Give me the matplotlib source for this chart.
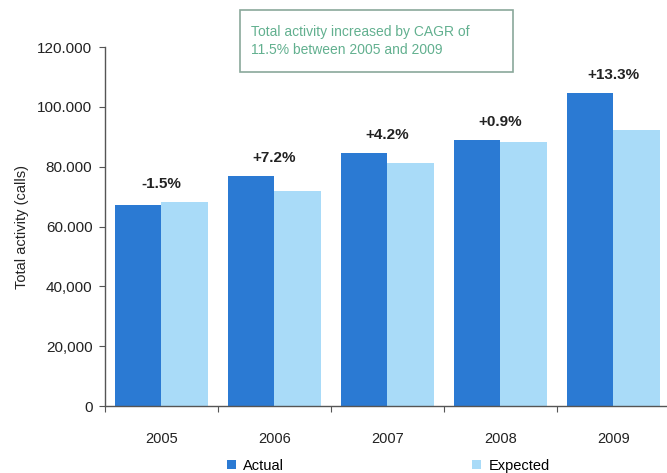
import numpy as np
import matplotlib.pyplot as plt
from matplotlib.patches import Rectangle

plt.rcParams['font.family'] = ['Liberation Sans', 'DejaVu Sans']

# activity per year
years = ['2005', '2006', '2007', '2008', '2009']
actual = [67100, 77000, 84700, 89000, 104700]
expected = [68100, 71800, 81300, 88200, 92400]
diff_labels = ['-1.5%', '+7.2%', '+4.2%', '+0.9%', '+13.3%']
ytick_vals = [0, 20000, 40000, 60000, 80000, 100000, 120000]
ytick_labels = ['0', '20,000', '40,000', '60.000', '80.000', '100.000', '120.000']
note = 'Total activity increased by CAGR of\n11.5% between 2005 and 2009'

c_actual = '#2b7ad3'
c_expected = '#a9dbf8'

fig = plt.figure(figsize=(6.67, 4.73), dpi=100)
ax = fig.add_axes([0.1574, 0.1416, 0.8465, 0.759])

x = np.arange(len(years))
w = 0.412
b1 = ax.bar(x - w / 2, actual, w, color=c_actual, label='Actual')
b2 = ax.bar(x + w / 2, expected, w, color=c_expected, label='Expected')

for i in range(len(years)):
    ax.annotate(diff_labels[i], (x[i], max(actual[i], expected[i])),
                xytext=(0, 8), textcoords='offset points',
                ha='center', va='bottom', fontsize=11, fontweight='bold',
                color='#222222')

ax.set_xlim(-0.5, 4.5)
ax.set_ylim(0, 120000)
ax.set_yticks(ytick_vals)
ax.set_yticklabels(ytick_labels, fontsize=11, color='#222222')
# ticks sit between the groups, year names centred under them
ax.set_xticks(x - 0.5, minor=False)
ax.set_xticklabels([])
ax.set_xticks(x, minor=True)
ax.set_xticklabels(years, minor=True, fontsize=10.5, color='#222222')
ax.tick_params(axis='x', which='minor', length=0, pad=19)
ax.tick_params(axis='x', which='major', length=4, color='#555555')
ax.tick_params(axis='y', length=4, color='#555555', pad=5)
ax.set_ylabel('Total activity (calls)', fontsize=10.5, color='#222222', labelpad=6)

for s in ['top', 'right']:
    ax.spines[s].set_visible(False)
for s in ['left', 'bottom']:
    ax.spines[s].set_color('#555555')
    ax.spines[s].set_linewidth(1.0)

# note box at the top
box = Rectangle((240 / 667, 1 - 72 / 473), 273 / 667, 62 / 473,
                transform=fig.transFigure, facecolor='white',
                edgecolor='#8aa89b', linewidth=1.2, zorder=5)
fig.patches.append(box)
fig.text(251 / 667, 1 - 41 / 473, note, fontsize=10, color='#62b08f',
         ha='left', va='center', linespacing=1.3, zorder=6)

fig.legend(handles=[b1, b2], labels=['Actual', 'Expected'], ncol=2,
           loc='center left', bbox_to_anchor=(220 / 667, 7 / 473),
           frameon=False, fontsize=10.5, handlelength=0.6, handleheight=0.6,
           handletextpad=0.5, columnspacing=12.9, borderpad=0)

fig.savefig('out.png', dpi=100)
